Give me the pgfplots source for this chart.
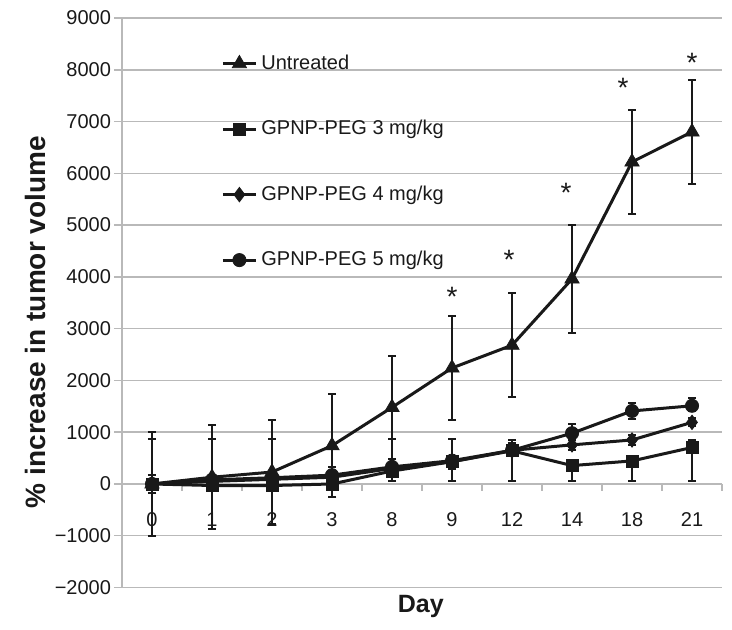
\documentclass[border=0pt]{standalone}
\usepackage{fontspec}
\setmainfont{Liberation Sans}
\usepackage{pgfplots}
\pgfplotsset{compat=1.18}
\definecolor{gridgray}{RGB}{185,185,185}
\definecolor{ink}{RGB}{25,25,25}

\pgfplotstableread{
x y ep em
0 0 1000 1000
1 130 1000 1000
2 230 1000 1000
3 740 1000 1000
4 1480 1000 1000
5 2240 1000 1000
6 2680 1000 1000
7 3960 1040 1040
8 6220 1000 1000
9 6800 1010 1010
}\untreated
\pgfplotstableread{
x y ep em
0 0 175 175
1 -30 100 100
2 -30 100 100
3 0 100 245
4 250 50 190
5 430 100 380
6 640 100 585
7 355 100 295
8 445 100 385
9 705 145 645
}\gthree
\pgfplotstableread{
x y ep em
0 0 100 100
1 50 100 100
2 90 100 100
3 130 100 100
4 300 100 100
5 430 100 140
6 650 205 100
7 755 100 100
8 850 100 100
9 1190 80 80
}\gfour
\pgfplotstableread{
x y ep em
0 0 865 175
1 80 785 100
2 120 745 100
3 170 150 100
4 330 535 100
5 450 420 150
6 650 150 100
7 980 175 100
8 1410 150 150
9 1510 160 100
}\gfive

\begin{document}
\begin{tikzpicture}[x=1pt,y=1pt]
\path[use as bounding box] (-61,-20.75) rectangle (305,293.75);
\begin{axis}[
 at={(0,0)}, anchor=south west,
 scale only axis, width=300pt, height=284.75pt,
 xmin=-0.5, xmax=9.5, ymin=-2000, ymax=9000,
 axis x line=middle, axis y line=left,
 axis line style={gridgray, line width=0.75pt, -},
 hide obscured x ticks=false, hide obscured y ticks=false,
 xtick={0,...,9}, xticklabels={0,1,2,3,8,9,12,14,18,21},
 minor xtick={-0.5,0.5,...,9.5},
 ytick={-2000,-1000,...,9000},
 yticklabels={−2000,−1000,0,1000,2000,3000,4000,5000,6000,7000,8000,9000},
 ymajorgrids, grid style={gridgray, line width=0.75pt},
 tick align=center,
 major tick length=4pt, minor tick length=3.5pt,
 major x tick style={draw=none},
 minor x tick style={gridgray, line width=0.75pt, yshift=-1.75pt},
 ytick style={gridgray, line width=0.75pt, xshift=-2pt},
 ticklabel style={font=\fontsize{10}{12}\selectfont, text=ink},
 xticklabel style={yshift=-9pt},
 ylabel={\% increase in tumor volume},
 ylabel style={font=\bfseries\fontsize{14}{16}\selectfont, text=ink, at={(axis description cs:-0.145,0.466)}, anchor=center},
 xlabel={Day},
 xlabel style={font=\bfseries\fontsize{12.5}{14}\selectfont, text=ink, at={(axis description cs:0.498,-0.0325)}, anchor=center},
 legend style={draw=none, fill=none, at={(axis description cs:0.155,0.95)}, anchor=north west, row sep=20pt, font=\fontsize{10}{12}\selectfont, text=ink},
 legend cell align=left,
 legend image code/.code={\draw[mark repeat=2,mark phase=2,#1] plot coordinates {(0pt,0pt) (8.25pt,0pt) (16.5pt,0pt)};},
 every axis plot/.append style={line width=1.5pt, ink},
 error bars/y dir=both, error bars/y explicit,
 error bars/error bar style={line width=1pt, ink, solid},
 error bars/error mark options={line width=1pt, mark size=2pt, ink, rotate=90},
]
\addplot[ink, mark=triangle*, mark size=4.1pt, mark options={solid, line width=0.4pt}] table[x=x, y=y, y error plus=ep, y error minus=em] {\untreated};
\addlegendentry{Untreated}
\addplot[ink, mark=square*, mark size=3pt, mark options={solid, line width=0.4pt}] table[x=x, y=y, y error plus=ep, y error minus=em] {\gthree};
\addlegendentry{GPNP-PEG 3 mg/kg}
\addplot[ink, mark=diamond*, mark size=3.6pt, mark options={solid, line width=0.4pt}] table[x=x, y=y, y error plus=ep, y error minus=em] {\gfour};
\addlegendentry{GPNP-PEG 4 mg/kg}
\addplot[ink, mark=*, mark size=3.3pt, mark options={solid, line width=0.4pt}] table[x=x, y=y, y error plus=ep, y error minus=em] {\gfive};
\addlegendentry{GPNP-PEG 5 mg/kg}
\addplot[draw=none, mark=none, forget plot, nodes near coords={*},
  every node near coord/.style={anchor=base, inner sep=0pt, font=\fontsize{14}{16}\selectfont, text=ink}]
  coordinates {(5,3420) (5.95,4150) (6.9,5430) (7.85,7460) (9,7940)};
\end{axis}
\end{tikzpicture}
\end{document}
